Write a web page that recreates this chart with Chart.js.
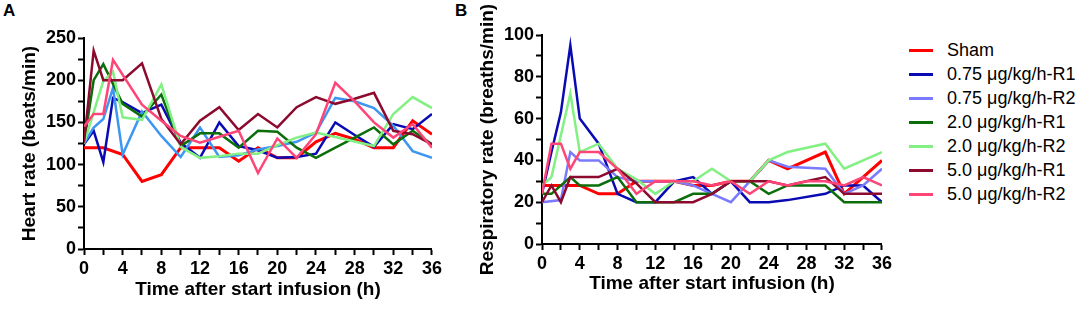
<!DOCTYPE html>
<html><head><meta charset="utf-8">
<script src="https://cdn.jsdelivr.net/npm/chart.js@4"></script>
<style>
html,body{margin:0;padding:0;background:#fff;width:1084px;height:317px;overflow:hidden;}
#ca{position:absolute;left:0;top:0;}
#cb{position:absolute;left:441px;top:0;}
.lbl{position:absolute;font:bold 17px "Liberation Sans",Arial,sans-serif;color:#000;}
#legend{position:absolute;left:909px;top:38px;font:18px "Liberation Sans",Arial,sans-serif;color:#000;}
.item{height:24px;display:flex;align-items:center;white-space:nowrap;}
.sw{width:24px;height:3px;margin-right:14px;flex:none;}
</style></head><body>
<div class="lbl" style="left:3px;top:1px">A</div>
<div class="lbl" style="left:455px;top:1px">B</div>
<canvas id="ca" width="445" height="317"></canvas>
<canvas id="cb" width="454" height="317"></canvas>
<div id="legend"></div>
<script>
// ---- data ----
const hours = [0,1,2,3,4,6,8,10,12,14,16,18,20,22,24,26,28,30,32,34,36];
const seriesNames = ["Sham","0.75 μg/kg/h-R1","0.75 μg/kg/h-R2","2.0 μg/kg/h-R1","2.0 μg/kg/h-R2","5.0 μg/kg/h-R1","5.0 μg/kg/h-R2"];

// Heart rate (beats/min)
const hrSham   = [120,120,120,null,112,80,88,120,120,120,104,120,108,108,127,137,130,120,120,152,136];
const hr075R1  = [124,140,103,179,174,161,171,126,108,150,122,117,108,109,113,150,135,121,148,142,160];
const hr075R2  = [125,144,154,191,112,163,134,109,144,109,111,118,122,127,138,179,175,167,146,116,108];
const hr20R1   = [125,200,219,null,172,157,183,122,137,137,120,140,139,120,108,120,132,144,124,140,124];
const hr20R2   = [125,null,199,210,156,153,195,121,108,110,113,113,123,132,138,null,null,122,160,180,167];
const hr50R1   = [126,235,200,null,200,220,154,124,152,168,141,160,144,168,180,172,178,185,140,136,124];
const hr50R2   = [145,160,160,224,null,171,152,134,126,133,140,90,131,108,136,197,175,150,132,148,120];

// Respiratory rate (breaths/min)
const rrSham   = [28,28,28,28,28,24,24,30,30,30,28,28,30,30,40,36,null,44,24,32,40];
const rr075R1  = [24,44,63,95,60,48,24,20,20,30,32,24,30,20,20,21,null,24,28,28,20];
const rr075R2  = [20,null,21,44,40,40,32,30,30,30,28,24,20,30,40,37,null,36,24,28,36];
const rr20R1   = [24,24,null,32,28,28,32,20,20,20,24,24,30,30,24,28,28,28,20,20,20];
const rr20R2   = [28,32,null,72,44,48,36,31,24,30,30,36,30,30,40,44,null,48,36,null,44];
const rr50R1   = [20,28,20,32,32,32,36,29,20,20,20,24,30,30,30,28,30,32,24,24,24];
const rr50R2   = [24,48,48,36,44,44,36,24,30,30,30,28,30,24,30,28,30,30,28,32,28];

const xTicksMajor = 4;
const hrTickLabelStep = 50, rrTickLabelStep = 20;

// ---- styling ----
const colorsA = ["#ff0000","#0a0ab4","#3d97f2","#0b6e0b","#82f082","#8b0a2e","#ff4477"];
const colorsB = ["#ff0000","#0a0ab4","#7a7aff","#0b6e0b","#82f082","#8b0a2e","#ff4477"];
const FONT = '"Liberation Sans", Arial, sans-serif';

function mkSets(arrs, colors){
  return arrs.map((a,i)=>({
    label: seriesNames[i],
    data: hours.map((h,j)=>({x:h, y:a[j]})),
    borderColor: colors[i], backgroundColor: colors[i],
    borderWidth: i===0 ? 3 : 2.5, pointRadius: 0, tension: 0, spanGaps: true, fill:false
  })).reverse();
}

function axisCommon(){
  return {
    grid:{display:true, drawOnChartArea:false, drawTicks:true, tickLength:6, tickWidth:2, tickColor:'#000'},
    border:{display:true, color:'#000', width:2}
  };
}

function mkChart(id, arrs, colors, yMax, yStep, yLabelStep, yTitle, yW, xH, pad, yTitlePad, xTitlePad){
  return new Chart(document.getElementById(id), {
    type:'line',
    data:{datasets: mkSets(arrs, colors)},
    options:{
      responsive:false, animation:false, devicePixelRatio:1,
      layout:{padding:pad},
      plugins:{legend:{display:false}, tooltip:{enabled:false}},
      scales:{
        x:Object.assign(axisCommon(), {
          type:'linear', min:0, max:36,
          ticks:{stepSize:2, autoSkip:false, maxRotation:0, padding:3, color:'#000',
                 font:{family:FONT, size:18, weight:'bold'},
                 callback:v=> v % xTicksMajor === 0 ? v : ''},
          title:{display:true, text:'Time after start infusion (h)', color:'#000',
                 font:{family:FONT, size:19, weight:'bold'}, padding:{top:0,bottom:xTitlePad}},
          afterFit:s=>{s.height = xH;}
        }),
        y:Object.assign(axisCommon(), {
          min:0, max:yMax,
          ticks:{stepSize:yStep, autoSkip:false, padding:2, color:'#000',
                 font:{family:FONT, size:18, weight:'bold'},
                 callback:v=> v % yLabelStep === 0 ? v : ''},
          title:{display:true, text:yTitle, color:'#000',
                 font:{family:FONT, size:19, weight:'bold'}, padding:{top:yTitlePad,bottom:0}},
          afterFit:s=>{s.width = yW;}
        })
      }
    }
  });
}

mkChart('ca', [hrSham,hr075R1,hr075R2,hr20R1,hr20R2,hr50R1,hr50R2], colorsA,
        250, 25, hrTickLabelStep, 'Heart rate (beats/min)', 84, 68,
        {left:0, right:10, top:38, bottom:0}, 18.6, 15.6);
const cb = mkChart('cb', [rrSham,rr075R1,rr075R2,rr20R1,rr20R2,rr50R1,rr50R2], colorsB,
        100, 10, rrTickLabelStep, 'Respiratory rate (breaths/min)', 101, 73,
        {left:0, right:10, top:35, bottom:0}, 35, 21.6);

// legend built from chart B datasets
const lg = document.getElementById('legend');
cb.data.datasets.slice().reverse().forEach(ds=>{
  const it = document.createElement('div'); it.className='item';
  const sw = document.createElement('div'); sw.className='sw'; sw.style.background = ds.borderColor;
  const tx = document.createElement('span'); tx.textContent = ds.label;
  it.appendChild(sw); it.appendChild(tx); lg.appendChild(it);
});
</script>
</body></html>
